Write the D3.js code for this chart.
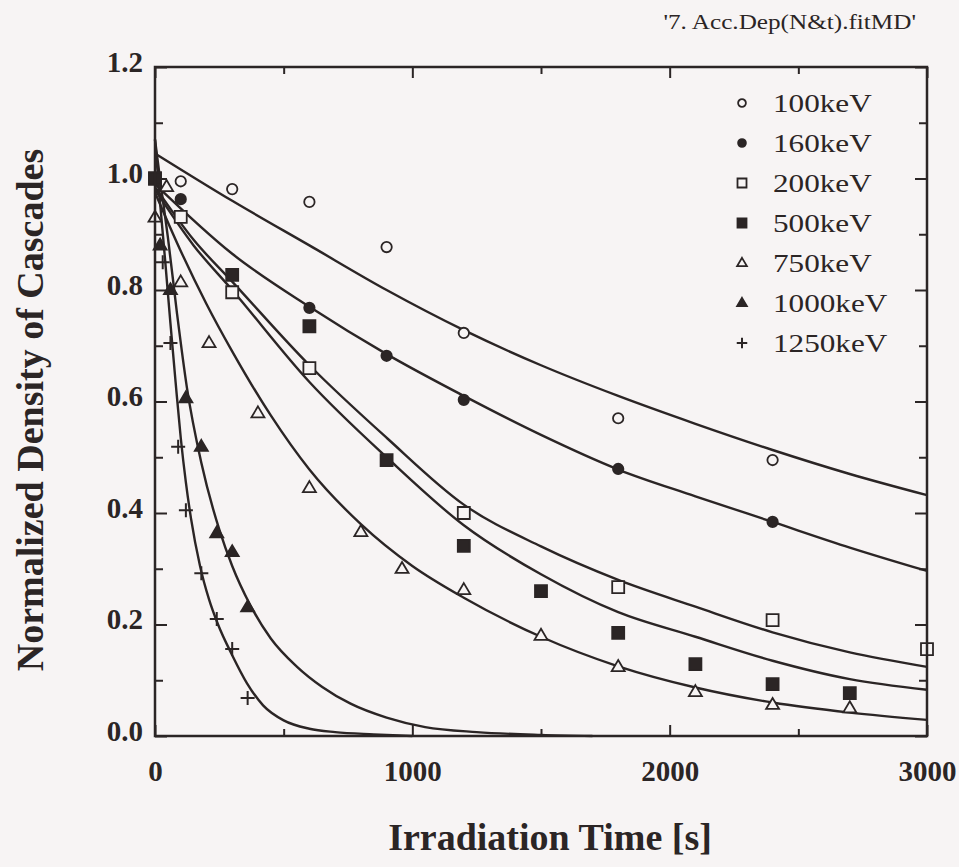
<!DOCTYPE html>
<html>
<head>
<meta charset="utf-8">
<script src="https://cdn.jsdelivr.net/npm/d3@7"></script>
<style>
  body { margin: 0; background: #f7f4f4; }
  svg { display: block; }
  text { font-family: "Liberation Serif", "Times New Roman", serif; fill: #2b2525; }
</style>
</head>
<body>
<svg width="959" height="867"></svg>
<script>
const svg = d3.select("svg");
const width = +svg.attr("width");
const height = +svg.attr("height");

// measured points [time s, normalized density]
const series = ["100keV", "160keV", "200keV", "500keV", "750keV", "1000keV", "1250keV"];
const markers = ["circleOpen", "circleFilled", "squareOpen", "squareFilled", "triOpen", "triFilled", "plus"];

const pts100 = [[0, 1.0], [100, 0.995], [300, 0.981], [600, 0.958], [900, 0.877], [1200, 0.723], [1800, 0.57], [2400, 0.495]];
const pts160 = [[0, 1.0], [100, 0.963], [600, 0.768], [900, 0.682], [1200, 0.603], [1800, 0.479], [2400, 0.384]];
const pts200 = [[0, 1.0], [100, 0.931], [300, 0.796], [600, 0.66], [1200, 0.4], [1800, 0.267], [2400, 0.208], [3000, 0.156]];
const pts500 = [[0, 1.0], [300, 0.827], [600, 0.735], [900, 0.495], [1200, 0.341], [1500, 0.26], [1800, 0.185], [2100, 0.129], [2400, 0.093], [2700, 0.077]];
const pts750 = [[0, 0.93], [45, 0.985], [100, 0.814], [210, 0.705], [400, 0.579], [600, 0.445], [800, 0.366], [960, 0.3], [1200, 0.262], [1500, 0.18], [1800, 0.124], [2100, 0.079], [2400, 0.056], [2700, 0.05]];
const pts1000 = [[20, 0.88], [60, 0.8], [120, 0.606], [180, 0.519], [240, 0.364], [300, 0.33], [360, 0.231]];
const pts1250 = [[30, 0.85], [60, 0.705], [90, 0.519], [120, 0.405], [180, 0.292], [240, 0.21], [300, 0.156], [360, 0.068]];

// fitted curves
const fit100 = [[0, 1.045], [300, 0.96], [600, 0.88], [900, 0.8], [1200, 0.728], [1500, 0.665], [1800, 0.61], [2100, 0.56], [2400, 0.513], [2700, 0.47], [3000, 0.432]];
const fit160 = [[0, 0.99], [300, 0.865], [600, 0.77], [900, 0.685], [1200, 0.61], [1500, 0.54], [1800, 0.478], [2100, 0.43], [2400, 0.384], [2700, 0.338], [3000, 0.296]];
const fit200 = [[0, 0.985], [150, 0.89], [300, 0.815], [600, 0.665], [900, 0.535], [1200, 0.415], [1500, 0.34], [1800, 0.28], [2100, 0.232], [2400, 0.186], [2700, 0.15], [3000, 0.124]];
const fit500 = [[0, 0.98], [150, 0.88], [300, 0.8], [600, 0.635], [900, 0.5], [1200, 0.378], [1500, 0.29], [1800, 0.222], [2100, 0.178], [2400, 0.135], [2700, 0.102], [3000, 0.083]];
const fit750 = [[0, 0.975], [100, 0.87], [200, 0.775], [300, 0.69], [450, 0.575], [600, 0.478], [800, 0.38], [1000, 0.305], [1200, 0.248], [1500, 0.178], [1800, 0.125], [2100, 0.087], [2400, 0.06], [2700, 0.042], [3000, 0.029]];
const fit1000 = [[0, 1.07], [25, 0.98], [50, 0.895], [85, 0.76], [124, 0.625], [180, 0.49], [250, 0.37], [300, 0.305], [370, 0.235], [450, 0.175], [550, 0.125], [650, 0.088], [760, 0.058], [900, 0.033], [1050, 0.016], [1250, 0.007], [1500, 0.002], [1700, 0.0]];
const fit1250 = [[0, 1.07], [20, 0.955], [40, 0.85], [60, 0.74], [80, 0.635], [100, 0.535], [120, 0.455], [140, 0.39], [175, 0.305], [210, 0.245], [245, 0.2], [300, 0.145], [357, 0.095], [420, 0.055], [500, 0.028], [600, 0.013], [700, 0.007], [850, 0.003], [1000, 0.0]];

const xTicks = [0, 1000, 2000, 3000];
const xMinor = [500, 1500, 2500];
const yTicks = [0, 0.2, 0.4, 0.6, 0.8, 1.0, 1.2];
const yMinor = [0.1, 0.3, 0.5, 0.7, 0.9, 1.1];

const points = [pts100, pts160, pts200, pts500, pts750, pts1000, pts1250];
const fits = [fit100, fit160, fit200, fit500, fit750, fit1000, fit1250];

const ink = "#2b2525";
const bg = "#f7f4f4";

const margin = { top: 67, right: 32, bottom: 131, left: 155 };
const innerWidth = width - margin.left - margin.right;
const innerHeight = height - margin.top - margin.bottom;

svg.append("rect").attr("width", width).attr("height", height).attr("fill", bg);

const xScale = d3.scaleLinear().domain([0, 3000]).range([0, innerWidth]);
const yScale = d3.scaleLinear().domain([0, 1.2]).range([innerHeight, 0]);

const g = svg.append("g").attr("transform", `translate(${margin.left},${margin.top})`);

// ticks (all point inward)
const styleAxis = (sel) => {
  sel.select(".domain").remove();
  sel.selectAll(".tick line").attr("stroke", ink).attr("stroke-width", 2);
  sel.selectAll(".tick text")
    .filter(function () { return this.textContent === ""; })
    .remove();
  sel.selectAll(".tick text")
    .attr("fill", ink)
    .style("font-family", '"Liberation Serif", "Times New Roman", serif')
    .style("font-weight", "bold")
    .style("font-size", "29px");
};

g.append("g").attr("transform", `translate(0,${innerHeight})`)
  .call(d3.axisBottom(xScale).tickValues(xTicks).tickSize(-11).tickPadding(24).tickFormat(d3.format("d")))
  .call(styleAxis);
g.append("g").attr("transform", `translate(0,${innerHeight})`)
  .call(d3.axisBottom(xScale).tickValues(xMinor).tickSize(-7).tickFormat(""))
  .call(styleAxis);
g.append("g")
  .call(d3.axisTop(xScale).tickValues(xTicks).tickSize(-11).tickFormat(""))
  .call(styleAxis);
g.append("g")
  .call(d3.axisTop(xScale).tickValues(xMinor).tickSize(-7).tickFormat(""))
  .call(styleAxis);

g.append("g")
  .call(d3.axisLeft(yScale).tickValues(yTicks).tickSize(-12).tickPadding(12).tickFormat(d3.format(".1f")))
  .call(styleAxis)
  .selectAll(".tick text").attr("dy", null).attr("y", 4);
g.append("g")
  .call(d3.axisLeft(yScale).tickValues(yMinor).tickSize(-8).tickFormat(""))
  .call(styleAxis);
g.append("g").attr("transform", `translate(${innerWidth},0)`)
  .call(d3.axisRight(yScale).tickValues(yTicks).tickSize(-12).tickFormat(""))
  .call(styleAxis);
g.append("g").attr("transform", `translate(${innerWidth},0)`)
  .call(d3.axisRight(yScale).tickValues(yMinor).tickSize(-8).tickFormat(""))
  .call(styleAxis);

// fit curves
const line = d3.line()
  .x((d) => xScale(d[0]))
  .y((d) => yScale(d[1]))
  .curve(d3.curveMonotoneX);

g.append("g")
  .selectAll("path")
  .data(fits)
  .join("path")
  .attr("d", line)
  .attr("fill", "none")
  .attr("stroke", ink)
  .attr("stroke-width", 2.4);

// markers
const shapePath = (kind, s) => {
  const p = d3.path();
  if (kind.startsWith("circle")) {
    p.arc(0, 0, 5.2 * s, 0, 2 * Math.PI);
  } else if (kind.startsWith("square")) {
    const h = 6 * s;
    p.rect(-h, -h, 2 * h, 2 * h);
  } else if (kind.startsWith("tri")) {
    const w = 13 * s, hh = 11 * s;
    p.moveTo(0, -hh * 0.62);
    p.lineTo(w / 2, hh * 0.38);
    p.lineTo(-w / 2, hh * 0.38);
    p.closePath();
  } else {
    const a = 7 * s;
    p.moveTo(-a, 0); p.lineTo(a, 0);
    p.moveTo(0, -a); p.lineTo(0, a);
  }
  return p.toString();
};

const drawMarker = (sel, kind, s) => {
  const filled = kind.endsWith("Filled");
  sel.attr("d", shapePath(kind, s))
    .attr("fill", kind === "plus" ? "none" : filled ? ink : bg)
    .attr("stroke", ink)
    .attr("stroke-width", kind === "plus" ? 2 : 1.8);
};

points.forEach((pts, i) => {
  g.append("g")
    .selectAll("path")
    .data(pts)
    .join("path")
    .attr("transform", (d) => `translate(${xScale(d[0])},${yScale(d[1])})`)
    .call(drawMarker, markers[i], 1);
});

// frame
g.append("rect")
  .attr("width", innerWidth)
  .attr("height", innerHeight)
  .attr("fill", "none")
  .attr("stroke", ink)
  .attr("stroke-width", 2.5);

// legend (scan is a bit wider than Times, stretch text 1.2x)
const legend = svg.append("g").attr("transform", "translate(742,103)");
series.forEach((name, i) => {
  const row = legend.append("g").attr("transform", `translate(0,${i * 40})`);
  row.append("path").call(drawMarker, markers[i], 0.75);
  row.append("text")
    .attr("transform", "translate(31,9) scale(1.2,1)")
    .style("font-size", "26px")
    .text(name);
});

// titles
svg.append("text")
  .attr("transform", "translate(916,29) scale(1.2,1)")
  .attr("text-anchor", "end")
  .style("font-size", "21px")
  .text("'7. Acc.Dep(N&t).fitMD'");

svg.append("text")
  .attr("x", 550)
  .attr("y", 850)
  .attr("text-anchor", "middle")
  .style("font-size", "38px")
  .style("font-weight", "bold")
  .text("Irradiation Time [s]");

svg.append("text")
  .attr("transform", "translate(43,410) rotate(-90)")
  .attr("text-anchor", "middle")
  .style("font-size", "38px")
  .style("font-weight", "bold")
  .text("Normalized Density of Cascades");
</script>
</body>
</html>
